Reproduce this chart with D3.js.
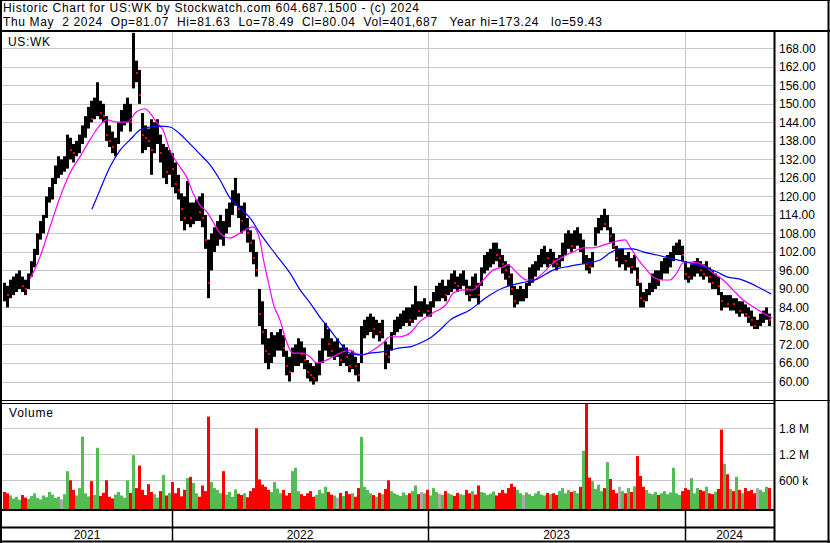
<!DOCTYPE html>
<html><head><meta charset="utf-8">
<script src="https://cdn.jsdelivr.net/npm/d3@7"></script>
<style>
body{margin:0;background:#fff}
svg{display:block}
text{font-family:"Liberation Sans",Arial,sans-serif;font-size:12px;fill:#000}
</style>
</head><body><svg id="c" width="830" height="543"></svg>
<script>
// ---------- DATA ----------
const symbol = "US:WK";
const titleLine1 = "Historic Chart for US:WK by Stockwatch.com 604.687.1500 - (c) 2024";
const titleLine2 = "Thu May  2 2024  Op=81.07  Hi=81.63  Lo=78.49  Cl=80.04  Vol=401,687   Year hi=173.24   lo=59.43";
const priceTicks = [60,66,72,78,84,90,96,102,108,114,120,126,132,138,144,150,156,162,168];
const volumeTicks = [600,1200,1800]; // thousands
const yearLabels = ["2021","2022","2023","2024"];
const yearStartIdx = [null,56,141.33,227];

const highs = [92,91,93,94,95,96,94,93,95,99,
103,108,112,114,120,123,126,130,133,132,
133,140,139,137,138,140,143,146,149,151,
152,157,151,150,146,143,141,139,144,148,
150,152,150,173,164,161,147,143,142,145,
144,145,140,137,136,135,134,131,127,121,
120,125,118,118,119,120,121,114,106,108,
110,112,114,112,116,118,122,126,121,117,
118,113,109,106,102,90,86,77,74,76,
75,76,77,75,70,68,71,72,74,73,
71,67,66,65,66,70,74,79,77,74,
73,74,71,72,71,69,70,68,66,78,
80,81,82,81,80,79,80,73,72,76,
80,81,82,83,84,84,85,91,86,86,
87,85,86,89,91,92,93,91,93,95,
96,94,95,96,93,91,94,95,92,97,
101,102,103,105,105,103,101,99,98,95,
91,90,91,90,92,97,98,99,101,103,
104,102,103,102,100,101,105,108,109,108,
109,110,108,106,101,100,102,110,113,114,
116,114,110,108,104,103,103,101,102,100,
101,97,92,89,90,92,95,96,96,99,
100,101,102,104,105,106,104,99,97,98,
99,100,99,98,99,97,96,95,94,89,
88,88,88,87,87,86,86,85,84,83,
81,80,82,83,84,82];
const lows = [86,84,87,88,89,90,89,88,90,94,
97,101,106,108,113,118,119,124,126,127,
128,129,132,131,133,134,137,139,142,144,
145,146,145,144,138,136,134,133,137,141,
143,144,141,155,157,150,134,135,136,127,
134,137,131,126,124,127,123,121,119,112,
109,111,110,111,112,112,110,103,87,96,
102,104,106,104,108,110,114,117,113,108,
109,105,102,98,94,78,72,66,64,66,
68,70,70,68,62,60,63,65,65,66,
64,61,60,59,60,62,66,70,68,68,
67,68,65,66,65,63,64,62,60,66,
74,75,76,74,75,73,74,64,66,70,
75,76,77,78,79,78,79,80,81,81,
82,81,81,84,86,86,87,86,88,89,
90,89,90,91,88,86,87,87,85,91,
95,96,97,98,99,97,95,93,91,88,
84,85,86,86,87,91,92,94,96,97,
98,97,98,97,96,97,99,101,103,102,
103,104,102,98,96,95,97,104,108,109,
110,109,105,103,99,97,98,96,97,95,
96,91,84,84,86,88,89,90,91,93,
95,95,97,99,101,101,99,93,92,93,
94,95,94,93,94,92,90,90,88,83,
84,84,83,83,82,81,82,81,79,78,
77,77,78,79,80,78];
const closes = [89,88,90,91,92,94,91,90,93,97,
101,106,110,112,118,121,123,128,130,130,
131,137,135,134,136,138,141,143,146,145,
150,151,147,146,140,138,136,137,142,146,
148,150,144,162,160,153,140,139,138,135,
140,142,134,136,128,131,129,124,122,116,
113,118,113,114,116,115,113,106,92,104,
106,109,110,107,112,115,119,121,116,112,
114,108,105,100,96,82,76,70,69,71,
72,73,74,71,65,63,66,68,70,69,
67,63,62,61,63,67,71,75,72,70,
71,71,67,69,68,65,67,65,62,75,
77,78,79,77,78,76,77,69,68,74,
78,79,80,81,82,80,82,85,83,83,
85,83,84,87,89,89,90,88,91,93,
92,91,93,94,90,88,92,91,88,95,
98,99,100,102,101,100,98,96,94,90,
86,87,88,88,90,95,96,97,99,101,
102,100,101,99,98,99,103,106,107,104,
106,108,103,105,98,97,100,108,111,112,
111,113,107,104,100,100,101,99,100,97,
99,93,87,86,88,90,93,94,93,97,
98,99,100,102,103,104,101,95,94,96,
97,98,96,95,96,94,92,93,91,86,
87,85,86,85,86,83,84,82,81,80,
78,78,80,81,82,80];
const volumes = [330,300,250,180,220,150,260,200,170,240,
300,190,160,250,210,330,270,190,220,160,
280,810,600,380,250,420,1610,300,230,580,
260,1350,240,310,600,220,180,270,330,250,
200,600,310,1180,420,940,380,260,510,330,
280,200,350,720,250,310,560,300,420,230,
380,650,680,540,300,220,480,350,2070,560,
420,380,300,810,270,330,220,390,290,260,
300,210,350,420,1800,620,500,450,380,330,
560,410,300,380,250,310,810,890,350,280,
240,300,350,220,260,380,300,450,330,270,
250,200,310,240,350,280,300,220,420,1600,
450,380,300,260,220,310,280,400,600,350,
300,270,240,320,260,300,350,480,280,330,
300,380,250,420,330,290,260,350,300,270,
240,310,280,260,380,300,350,270,480,330,
310,260,290,340,250,310,380,300,420,520,
450,380,300,260,320,280,240,300,350,270,
250,310,280,300,260,350,420,300,380,330,
360,300,450,1280,2400,660,580,400,500,350,
420,1020,630,380,300,450,350,300,420,330,
460,1160,700,450,380,300,280,330,260,300,
350,280,320,890,300,260,350,420,380,650,
300,420,380,350,450,300,280,330,400,1770,
980,740,400,350,680,380,300,420,350,380,
300,420,380,330,450,420];
// moving averages: [bar index, value]
const maShortIdx = [8.7,12,15.3,18.7,22,25.3,28.7,32,34.3,37.7,41,44.3,47,48.7,51,53,55.3,58.7,61,63,65.3,67.7,69.7,72,75.3,78.7,83,85.3,86.3,88.7,89.7,92,94.3,96.3,99.7,102,104.3,107.7,112,115.3,117,119.7,123,126.3,128.7,132,135.3,138.7,143,147.7,149.7,153,156.3,159.7,163,166.3,168,171,174.3,176.3,179.7,183,186.3,189.7,193,196.3,199.7,203,207,208.7,211,214.3,216.3,219.7,222,224.3,226.3,229.7,233,236.3,239.7,243,246.3,249.7,253,256];
const maShortVal = [93.2,100.4,110,119.8,127.6,132.8,138.4,143.1,144.8,144.1,144.1,147.5,148.4,147,143.8,141.5,135,129.5,126,121.1,117.2,114.9,111.7,108.1,106.5,108.1,110.1,105.8,100.4,89.7,85.4,79.9,72.5,69.2,69.2,68,66,67,69.2,70.2,69.2,68.6,70.2,72.5,74.5,74.5,75.7,79.5,82.2,85.4,88.6,89.7,89.7,92.9,96.1,97.1,97.8,95.2,92.9,92.9,95.2,98.4,100.4,102,103.3,103.3,104.2,105.2,105.9,103.6,100.1,96.1,93.9,92.9,92.9,95.2,98.4,98.7,97.8,95.2,92.9,89.7,86.5,84.2,82.2,80.6];
const maLongIdx = [29.3,32,35.3,38.7,42,45.3,48.7,52,55.3,58.7,62,65.3,68.7,72,75.3,78.7,82,85.3,88.7,92,95.3,98.7,102,105.3,108.7,112,115.3,118.7,122,125.3,128.7,132,135.3,138.7,142,145.3,148.7,155.3,161,166.3,172,177.7,183,188.7,194.3,198.7,202,205.3,209.7,213,217.7,222,226.3,231,234.3,237.7,241,245.3,248.7,252,255.7];
const maLongVal = [115.8,122.1,129.5,135,138.3,141.5,142.5,142.8,142.5,140.2,137,133.7,130.2,125.3,119.5,116.2,113,108.1,103.6,99.4,95.2,89.7,85.5,80.9,76.7,72.5,69.2,68.6,69.2,69.5,70.2,70.9,71.2,72.5,74.1,76.7,79.9,83.2,87.4,90.3,91.9,93.2,96.1,97.4,98.4,99.4,101.7,103,103,102,101,100,99,97.8,96.8,95.5,93.9,93.2,91.9,90.3,88.4];

// ---------- LAYOUT ----------
const svg = d3.select("#c");
const PL = 2, PR = 774, PT = 32, PB = 400, VT = 403, VB = 509;
const x = d3.scaleLinear().domain([0, highs.length - 1]).range([4, 769]);
const y = d3.scaleLinear().domain([60, 168]).range([381.5, 48.3]);
const yv = d3.scaleLinear().domain([0, 1800]).range([506.3, 428.3]);

svg.append("rect").attr("width", 830).attr("height", 543).attr("fill", "#fff");

// gridlines + price axis
const pAxis = d3.axisRight(y).tickValues(priceTicks).tickFormat(d3.format(".2f"))
  .tickSize(-(PR - PL)).tickPadding(5);
const gp = svg.append("g").attr("transform", `translate(${PR},0)`).call(pAxis);
gp.select(".domain").remove();
gp.selectAll("line").attr("stroke", "#c8c8c8").attr("shape-rendering", "crispEdges");
gp.selectAll("text").attr("font-size", 12).attr("font-family", "Liberation Sans, Arial, sans-serif").attr("fill", "#000");

const vAxis = d3.axisRight(yv).tickValues(volumeTicks)
  .tickFormat(d => d >= 1000 ? (d / 1000) + " M" : d + " k")
  .tickSize(-(PR - PL)).tickPadding(5);
const gv = svg.append("g").attr("transform", `translate(${PR},0)`).call(vAxis);
gv.select(".domain").remove();
gv.selectAll("line").attr("stroke", "#c8c8c8").attr("shape-rendering", "crispEdges");
gv.selectAll("text").attr("font-size", 12).attr("font-family", "Liberation Sans, Arial, sans-serif").attr("fill", "#000");

// year gridlines
const yearIdx = yearStartIdx.filter(d => d !== null);
svg.append("g").selectAll("line").data(yearIdx).join("line")
  .attr("x1", d => Math.round(x(d)) + 0.5).attr("x2", d => Math.round(x(d)) + 0.5)
  .attr("y1", PT).attr("y2", VB).attr("stroke", "#c8c8c8");

// clip
const defs = svg.append("defs");
defs.append("clipPath").attr("id", "pc").append("rect").attr("x", PL).attr("y", PT).attr("width", PR - PL).attr("height", PB - PT);
defs.append("clipPath").attr("id", "vc").append("rect").attr("x", PL).attr("y", VT + 1).attr("width", PR - PL).attr("height", VB - VT - 1);

// volume bars
const gvb = svg.append("g").attr("clip-path", "url(#vc)");
gvb.selectAll("rect").data(volumes).join("rect")
  .attr("x", (d, i) => x(i) - 1).attr("width", 3)
  .attr("y", d => yv(d)).attr("height", d => VB - yv(d))
  .attr("fill", (d, i) => {
    if (i === 0) return "#ff0000";
    return closes[i] > closes[i - 1] ? "#55bb55" : (closes[i] < closes[i - 1] ? "#ff0000" : "#aaaaaa");
  });

// price bars
const gpb = svg.append("g").attr("clip-path", "url(#pc)");
const idx = d3.range(highs.length);
gpb.selectAll("rect.hl").data(idx).join("rect").attr("class", "hl")
  .attr("x", i => x(i) - 1).attr("width", 3)
  .attr("y", i => y(highs[i])).attr("height", i => Math.max(1, y(lows[i]) - y(highs[i])))
  .attr("fill", "#000");
// red close marks on down closes
gpb.selectAll("rect.cl").data(idx.filter(i => i > 0 && closes[i] < closes[i - 1])).join("rect").attr("class", "cl")
  .attr("x", i => x(i)).attr("width", 2)
  .attr("y", i => Math.round(y(closes[i])) - 1).attr("height", 2)
  .attr("fill", "#ff0000");

// moving averages
const line = d3.line().x(d => x(d[0])).y(d => y(d[1])).curve(d3.curveMonotoneX);
gpb.append("path").datum(maShortIdx.map((d, i) => [d, maShortVal[i]]))
  .attr("d", line).attr("fill", "none").attr("stroke", "#ff00ff").attr("stroke-width", 1.2);
gpb.append("path").datum(maLongIdx.map((d, i) => [d, maLongVal[i]]))
  .attr("d", line).attr("fill", "none").attr("stroke", "#0000ff").attr("stroke-width", 1.2);

// frame lines
function hline(yy, x1, x2, w) { svg.append("line").attr("x1", x1).attr("x2", x2).attr("y1", yy).attr("y2", yy).attr("stroke", "#000").attr("stroke-width", w); }
function vline(xx, y1, y2, w) { svg.append("line").attr("x1", xx).attr("x2", xx).attr("y1", y1).attr("y2", y2).attr("stroke", "#000").attr("stroke-width", w); }
hline(0.5, 0, 830, 1);
hline(31, 0, 830, 2);
hline(400.5, 0, 830, 1.2);
hline(403.5, 0, PR, 1.2);
hline(510, 0, PR, 2);
hline(527.5, 0, PR, 2);
hline(541.5, 0, 830, 2);
vline(1, 0, 543, 2);
vline(774.5, 31, 542, 2);
vline(828.5, 0, 543, 2);
// year separators in axis rows
svg.append("g").selectAll("line").data(yearIdx).join("line")
  .attr("x1", d => Math.round(x(d)) + 0.5).attr("x2", d => Math.round(x(d)) + 0.5)
  .attr("y1", 510).attr("y2", 541).attr("stroke", "#000").attr("stroke-width", 1.5);

// year labels
const bounds = [PL].concat(yearIdx.map(d => x(d))).concat([PR]);
svg.append("g").selectAll("text").data(yearLabels).join("text")
  .attr("x", (d, i) => (bounds[i] + bounds[i + 1]) / 2).attr("y", 539)
  .attr("text-anchor", "middle").text(d => d);

// titles
svg.append("text").attr("x", 3).attr("y", 12).attr("textLength", 416).attr("lengthAdjust", "spacing").text(titleLine1);
svg.append("text").attr("x", 3).attr("y", 26).attr("textLength", 599).attr("lengthAdjust", "spacing").style("white-space", "pre").text(titleLine2);
svg.append("text").attr("x", 8).attr("y", 46).attr("textLength", 42).attr("lengthAdjust", "spacing").text(symbol);
svg.append("text").attr("x", 9).attr("y", 417).attr("textLength", 44).attr("lengthAdjust", "spacing").text("Volume");
</script>
</body></html>
